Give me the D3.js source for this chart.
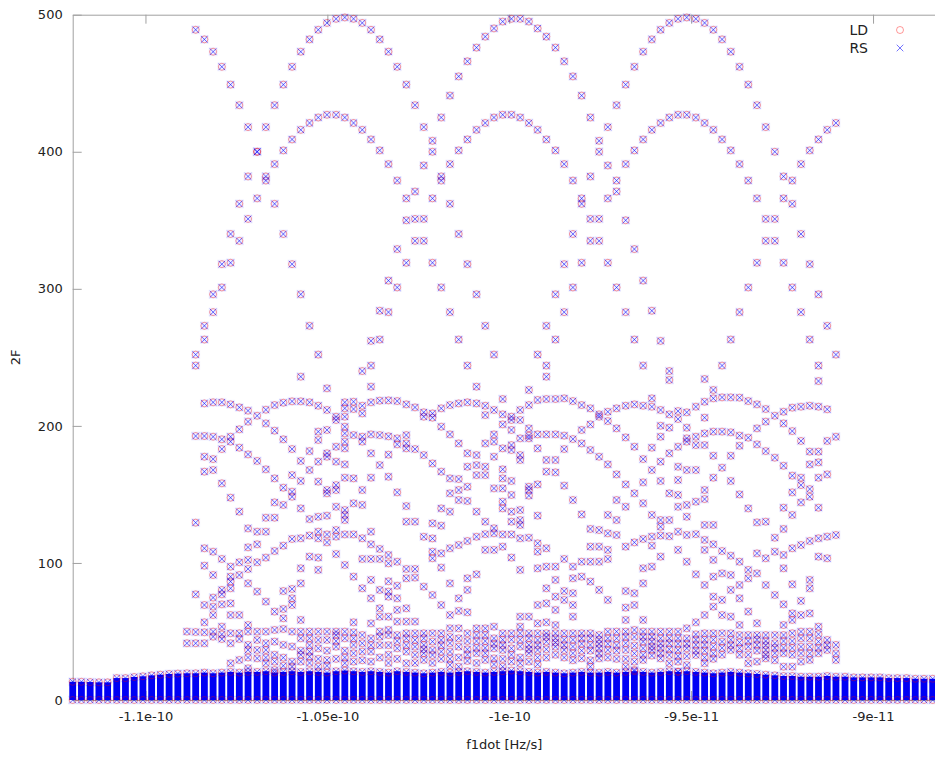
<!DOCTYPE html>
<html>
<head>
<meta charset="utf-8">
<script src="https://cdn.jsdelivr.net/npm/d3@7"></script>
<style>
  body { margin: 0; background: #fff; }
  text { font-family: "DejaVu Sans", sans-serif; fill: #222; }
</style>
</head>
<body>
<div id="chart"></div>
<script>
// f1dot grid, in units of 1e-13 Hz/s
const f1dot = [
  -1120.0, -1117.6, -1115.2, -1112.8, -1110.4, -1107.9, -1105.5, -1103.1, -1100.7, -1098.3,
  -1095.9, -1093.5, -1091.1, -1088.6, -1086.2, -1083.8, -1081.4, -1079.0, -1076.6, -1074.2,
  -1071.8, -1069.3, -1066.9, -1064.5, -1062.1, -1059.7, -1057.3, -1054.9, -1052.5, -1050.1,
  -1047.6, -1045.2, -1042.8, -1040.4, -1038.0, -1035.6, -1033.2, -1030.8, -1028.3, -1025.9,
  -1023.5, -1021.1, -1018.7, -1016.3, -1013.9, -1011.5, -1009.0, -1006.6, -1004.2, -1001.8,
  -999.4, -997.0, -994.6, -992.2, -989.8, -987.3, -984.9, -982.5, -980.1, -977.7,
  -975.3, -972.9, -970.5, -968.0, -965.6, -963.2, -960.8, -958.4, -956.0, -953.6,
  -951.2, -948.7, -946.3, -943.9, -941.5, -939.1, -936.7, -934.3, -931.9, -929.5,
  -927.0, -924.6, -922.2, -919.8, -917.4, -915.0, -912.6, -910.2, -907.7, -905.3,
  -902.9, -900.5, -898.1, -895.7, -893.3, -890.8, -888.4, -886.0, -883.6
];

// top of the dense low-2F block in every column
const denseTop = [
  13.3, 13.3, 13.1, 12.9, 12.9, 16.0, 16.0, 16.8, 17.3, 18.0,
  18.5, 19.0, 19.3, 19.5, 19.5, 20.0, 19.5, 20.0, 20.5, 20.0,
  20.5, 20.5, 21.0, 20.0, 20.5, 21.0, 20.5, 21.0, 20.5, 20.0,
  21.0, 21.5, 21.0, 20.5, 21.0, 20.5, 20.0, 21.0, 20.5, 20.0,
  19.5, 20.0, 20.5, 20.0, 20.5, 21.0, 20.5, 20.0, 20.5, 21.0,
  21.5, 21.0, 20.5, 20.0, 20.5, 20.0, 19.5, 20.0, 20.5, 20.0,
  20.0, 20.5, 20.0, 20.5, 21.0, 20.5, 20.0, 20.5, 21.0, 20.5,
  21.0, 20.5, 20.0, 19.5, 20.0, 20.5, 20.0, 19.5, 19.0, 18.5,
  18.0, 17.5, 17.5, 17.0, 17.0, 17.0, 17.5, 17.0, 17.0, 16.5,
  16.5, 16.5, 16.5, 16.0, 16.0, 16.0, 15.5, 15.5, 15.5
];

// sparse 2F values above the dense block, one list per f1dot column
const twoF = [
  [], [], [], [], [], [], [], [], [], [],
  [], [], [],
  [49.9, 41.4],
  [489, 252, 244, 192.6, 129.4, 77.1, 49.6, 41.4],
  [482, 273, 263, 216.4, 192.6, 177.5, 166.6, 110.7, 98, 69.3, 56.7, 49.4, 41.4],
  [473, 296, 283, 217.2, 192.1, 175.8, 167.8, 108.2, 91.2, 74.7, 68.1, 62, 49.9, 46.2],
  [462, 318, 301, 217.2, 190.2, 183.1, 158.1, 102.9, 80.3, 77.1, 69.8, 53.5, 47.9, 44.5],
  [449, 340, 319, 215.7, 192.1, 188.5, 147.6, 97.3, 90, 86.4, 81.5, 70.5, 62, 48.7, 41.4, 26.8],
  [434, 362, 335, 213.5, 197.5, 184.1, 137.4, 100.5, 91.2, 62, 48.7, 44.5, 29.2],
  [418, 382, 351, 211.1, 203.1, 179.2, 125.2, 111.4, 102.2, 95.6, 85.1, 54.7, 49.9, 40.2, 36.5, 31, 23.1],
  [400, 400, 366, 207.4, 174.4, 122.8, 113.6, 100.5, 79.1, 49.9, 43.8, 36.5, 30.4],
  [418, 382, 379, 211.8, 201.8, 168.3, 133, 122.8, 103.9, 71.8, 49.9, 41.4, 36.5, 31, 26.8],
  [434, 362, 391, 215.2, 196.5, 161.7, 144.2, 133, 108.7, 64.5, 51.1, 42.6, 33, 28, 21.9],
  [449, 340, 401, 216.9, 190.2, 154.9, 142.3, 112.6, 79.5, 66.4, 59.6, 51.8, 40.2, 30.9, 25],
  [462, 318, 409, 217.9, 183.1, 164.1, 152, 148.3, 117.5, 81, 74.2, 69.3, 49.9, 39, 28, 24.3],
  [473, 296, 416, 235.9, 217.9, 174.4, 159.8, 139.8, 118, 96.1, 85.1, 58.4, 49.9, 45, 36, 33, 28],
  [482, 273, 421, 217.2, 181.6, 167.8, 132, 120, 104.6, 49.9, 45, 40, 35.3, 31.6, 27],
  [489, 252, 425, 214.7, 195.8, 189.7, 173.9, 159.3, 133.7, 122.8, 118, 103.9, 94.9, 49.9, 43.8, 37.7, 30, 24.3],
  [494, 427, 227.4, 211.6, 197, 180, 177.5, 153.2, 150.8, 134.5, 120.8, 115, 49.9, 43.8, 36, 29.2, 25],
  [497, 427, 206.7, 204.3, 184.8, 173.9, 156.8, 153.2, 141, 124, 119.2, 106.5, 49.9, 47.4, 43, 38.9, 30],
  [498, 425, 217.2, 212.8, 206.7, 199.4, 194.5, 188.5, 183.6, 171.9, 162.2, 138.6, 135, 131.3, 120.8, 98.5, 49.9, 45, 36, 31, 26.8],
  [497, 421, 217.6, 212.3, 193.3, 161.7, 143.5, 120.8, 90, 56.7, 49.4, 45, 40.2, 34.1, 28],
  [494, 416, 240, 214.7, 209.1, 192.1, 188.5, 153.2, 142.3, 118, 102.9, 81.5, 47.4, 41.4, 35.3, 29],
  [489, 409, 262, 244, 228.6, 217.2, 193.8, 180, 162.2, 122.8, 113.6, 102.9, 87.6, 74.2, 55.9, 45, 40, 35.3, 28],
  [482, 401, 284, 263, 218.4, 193.3, 171.4, 110.2, 102.9, 80.3, 66.9, 60.8, 49.9, 46.2, 40, 31],
  [473, 391, 306, 283, 218.6, 192.4, 179, 162.9, 105.8, 99.7, 86.6, 79.1, 75.4, 60.8, 51.1, 47.4, 40, 33, 27],
  [462, 379, 329, 301, 218.1, 190.9, 186.5, 151.5, 100.9, 83.4, 74.2, 65.7, 57.2, 47.4, 43, 37.7, 30],
  [449, 366, 350, 319, 215.7, 193.3, 187.2, 183.6, 141.5, 130.1, 95.6, 88.8, 66.9, 57.2, 48.7, 45, 40, 35.3, 26.8],
  [434, 351, 371, 335, 213.5, 183.1, 130.1, 95.6, 89.3, 57.2, 48.7, 43.8, 38.9, 33, 27],
  [418, 335, 390, 351, 209.9, 206.7, 178.7, 119.1, 82.7, 48.7, 45, 40.2, 37, 34.1, 29.2],
  [400, 319, 408, 366, 209.1, 206, 172.6, 128.9, 117.9, 108.2, 103.4, 76.6, 48.7, 42.6, 36.5, 32.8, 27],
  [382, 301, 425, 379, 212.8, 199.4, 166.6, 139.8, 127.2, 107, 96.6, 69.3, 48.7, 43.8, 40, 35.3, 30],
  [362, 283, 441, 391, 215.2, 193.8, 161.7, 150.8, 137.4, 110.7, 85.1, 62, 52.3, 46, 41.4, 35.3, 30, 25.5],
  [340, 263, 455, 401, 216.4, 187.2, 161.2, 153.2, 145.9, 113.1, 74.2, 65, 52.3, 45, 38.9, 31, 24.3],
  [318, 244, 466, 409, 217.2, 180, 170.2, 155.6, 145.2, 116, 88.8, 80.3, 64, 48.7, 43, 37, 33, 28.5],
  [296, 476, 416, 228.6, 216.4, 178.7, 171.4, 164.1, 137.4, 119.1, 91.7, 52.3, 47.4, 43, 38, 34.1, 27],
  [273, 484, 421, 214.7, 207.9, 187.2, 170.2, 164.1, 130.1, 121, 109.5, 52.3, 47.4, 43, 38, 34.1, 29.2],
  [252, 490, 425, 211.6, 193.8, 188.5, 177.5, 154.4, 125.3, 121.6, 109.5, 53.5, 45, 41, 37.7, 30.4, 26],
  [495, 427, 219.6, 208.4, 201.1, 183.6, 168.3, 161.7, 154.4, 144.7, 139.8, 120.8, 111.9, 48.7, 44, 40, 36.5, 30, 24.3],
  [497, 427, 206.7, 204.3, 197, 186, 182.4, 159.8, 149.6, 137.4, 130.1, 120.8, 103.9, 48.7, 44, 37.7, 33, 28],
  [497, 425, 211.6, 204.3, 190.9, 178.7, 175.1, 138.6, 131.3, 127.7, 118, 94.9, 60.8, 53.5, 48.7, 44, 39, 31, 26.8],
  [495, 421, 226.2, 215.2, 198.2, 192.9, 190.9, 155.6, 153.2, 149.1, 118.4, 60.8, 48.7, 45, 40.2, 37, 34.1, 28],
  [490, 416, 252, 218.9, 193.8, 183.6, 157.3, 134.5, 114.3, 108.2, 96.1, 69.3, 55.9, 48.7, 43.8, 40, 36.5, 31, 26],
  [484, 409, 273, 244, 235.9, 219.6, 193.8, 175.1, 166.6, 110.7, 97.3, 81.5, 70.5, 56.7, 48.7, 46, 42.6, 37, 31],
  [476, 401, 296, 263, 219.6, 193.8, 175.1, 166.1, 97.3, 87.6, 75.4, 65.7, 54.7, 48.7, 45, 42, 38.9, 33],
  [466, 391, 318, 283, 220.1, 192.9, 183.1, 156.4, 102.9, 79.5, 73, 48.7, 44, 40, 36.5, 31],
  [455, 379, 340, 301, 218.1, 190.4, 145.9, 97.3, 88.8, 77.9, 69.3, 60.8, 48.7, 44, 39, 34.1, 29],
  [441, 366, 362, 319, 215.2, 197, 187.2, 135.4, 100.9, 90, 48.7, 45, 41, 36, 30.4],
  [425, 351, 382, 335, 212.8, 201.1, 182.4, 124.8, 111.9, 100.9, 86.4, 48.7, 45, 40.2, 36, 29, 24.3],
  [408, 335, 400, 351, 208.4, 206.7, 177.5, 124, 111.9, 100.9, 80.3, 47.4, 44, 41, 37.7, 34, 30.4],
  [390, 319, 418, 366, 210.3, 203.5, 171.9, 135, 121.6, 109.5, 102.9, 73, 49.9, 45, 41, 36.5, 31],
  [371, 301, 434, 379, 212.8, 198.2, 164.6, 145.9, 131.3, 120.4, 49.9, 45, 40, 36, 30],
  [350, 283, 449, 391, 214.7, 191.6, 157.3, 141, 111.9, 79.5, 67.4, 58.4, 49.9, 46, 41.4, 36.5, 30, 24.3],
  [329, 263, 462, 401, 215.7, 184.8, 150.8, 115, 77.9, 69.3, 51.1, 46, 39.7, 34, 28, 21.9],
  [306, 244, 473, 409, 214.7, 175.8, 158.8, 143.5, 117.5, 96.1, 85.1, 58.4, 49.9, 46, 42.6, 37.7, 33, 29.2],
  [284, 482, 416, 220.1, 214, 184.1, 167.8, 135, 119.2, 112.6, 97.3, 49.9, 46, 42.6, 39, 36.5, 32.4],
  [262, 489, 421, 211.6, 200.1, 192.1, 173.9, 159.8, 131.3, 126.4, 120, 104.6, 49.9, 45, 41, 38, 34.1, 30.4],
  [240, 494, 425, 233.5, 208.4, 198.7, 180, 150.8, 131.3, 119.5, 49.9, 45, 41.4, 37, 32.8, 26.8],
  [497, 427, 210.8, 205, 184.8, 170.2, 160.5, 149.6, 141, 122.8, 109.5, 49.9, 45, 41, 36.5, 32, 28, 20.7],
  [498, 427, 209.9, 198.7, 190.9, 188.5, 167.8, 142.3, 133.7, 120.4, 100.9, 52.3, 45, 41, 37.7, 32, 25.5],
  [497, 425, 214, 192.1, 186, 167.8, 144.7, 121, 91.7, 56.7, 47.9, 44, 40.2, 36, 32.8],
  [494, 421, 234.2, 217.6, 206, 194.5, 186, 153.2, 146.6, 127.7, 116.8, 109.5, 83.9, 62, 48.7, 44, 40.2, 36, 31, 26.8],
  [489, 416, 226.2, 220.1, 195.8, 178.2, 162.2, 127.7, 113.6, 102.2, 90, 75.4, 68.1, 48.7, 44, 38.9, 34, 30],
  [482, 409, 244, 220.8, 195.8, 169.5, 108.7, 92.4, 73, 62, 48.7, 42.6, 38, 33],
  [473, 401, 263, 220.8, 195.3, 178.2, 159.8, 105.3, 91.2, 80.3, 60.8, 48.7, 44, 40, 36.5],
  [462, 391, 283, 220.6, 192.9, 185.5, 150, 100.9, 83.9, 74.2, 54.7, 47.4, 42, 37.7, 33],
  [449, 379, 301, 218.1, 191.4, 139.8, 94.9, 88.8, 64.5, 47.4, 43, 38.9, 33, 26.8],
  [434, 366, 319, 215.7, 198.2, 186.5, 129.6, 107, 92.4, 56, 47.4, 44, 40.2, 36, 28],
  [418, 351, 335, 212.3, 203.1, 181.6, 130.1, 103.4, 83.9, 47.4, 43, 40, 36.5, 33, 30.4],
  [400, 335, 351, 207.4, 176.8, 118.4, 108.2, 76.6, 47.4, 41.4, 38, 34.1, 29],
  [382, 319, 366, 210.3, 201.8, 170.9, 140.3, 124.8, 105.8, 96.1, 69.8, 54.7, 47.4, 43, 38, 34.1, 24.3],
  [362, 301, 379, 213.3, 196.2, 163.7, 151.5, 135, 110.7, 84.4, 63.2, 58.4, 48.7, 43, 38, 33, 24.3],
  [340, 283, 391, 214, 189, 162.2, 156.8, 144.2, 113.1, 72.3, 62, 49.9, 45, 38.9, 34, 28],
  [318, 263, 401, 214.7, 181.2, 171.9, 153.9, 148.3, 116, 87.6, 81.5, 63.2, 49.9, 45, 38.9, 34, 29.2],
  [296, 244, 409, 232.7, 214, 181.2, 173.4, 162.2, 140.3, 118, 104.6, 53.5, 48, 42.6, 38, 34.1],
  [273, 416, 212.1, 189, 164.6, 119.2, 103.4, 43.8, 40, 36.5],
  [252, 421, 192.1, 120.4, 40.2, 34, 29.2],
  [], [], [], [], [], [], [], [], [], [], []
];

const seriesNames = ["LD", "RS"];
const xTicks = [-1.1e-10, -1.05e-10, -1e-10, -9.5e-11, -9e-11];
const xTickLabels = ["-1.1e-10", "-1.05e-10", "-1e-10", "-9.5e-11", "-9e-11"];
const yTicks = [0, 100, 200, 300, 400, 500];

const W = 935, H = 757;
const plotLeft = 72.7, plotTop = 14.7, plotBottom = 700;

const svg = d3.select("#chart").append("svg")
  .attr("width", W).attr("height", H);

const x = d3.scaleLinear().domain([-1.12e-10, -8.8e-11]).range([plotLeft, 945.8]);
const y = d3.scaleLinear().domain([0, 500]).range([plotBottom, plotTop]);

const grey = "#a0a0a0";

// axes (gnuplot style: ticks inside, mirrored on top)
const xAxis = svg.append("g")
  .attr("transform", "translate(0," + plotBottom + ")")
  .call(d3.axisBottom(x).tickValues(xTicks)
    .tickFormat((d, i) => xTickLabels[i]).tickSizeInner(-9).tickSizeOuter(0).tickPadding(12));
xAxis.select(".domain").attr("stroke", grey);
xAxis.selectAll(".tick line").attr("stroke", grey);
xAxis.selectAll("text").style("font-size", "13px").attr("fill", "#222");

const xTop = svg.append("g")
  .attr("transform", "translate(0," + plotTop + ")")
  .call(d3.axisTop(x).tickValues(xTicks).tickFormat("").tickSizeInner(-9).tickSizeOuter(0));
xTop.select(".domain").attr("stroke", grey);
xTop.selectAll(".tick line").attr("stroke", grey);

const yAxis = svg.append("g")
  .attr("transform", "translate(" + plotLeft + ",0)")
  .call(d3.axisLeft(y).tickValues(yTicks).tickSizeInner(-9).tickSizeOuter(0).tickPadding(10));
yAxis.select(".domain").attr("stroke", grey);
yAxis.selectAll(".tick line").attr("stroke", grey);
yAxis.selectAll("text").style("font-size", "13px").attr("fill", "#222");

svg.append("text")
  .attr("transform", "translate(20," + y(250) + ") rotate(-90)")
  .attr("text-anchor", "middle")
  .style("font-size", "13px")
  .text("2F");

svg.append("text")
  .attr("x", x(-1e-10) - 5).attr("y", 749)
  .attr("text-anchor", "middle")
  .style("font-size", "13px")
  .text("f1dot [Hz/s]");

// flatten the columns into points
const cols = f1dot.map((f, i) => ({ f: f * 1e-13, top: denseTop[i], vals: twoF[i] }));
const points = [];
cols.forEach(c => {
  points.push({ f: c.f, v: 0 });
  points.push({ f: c.f, v: c.top });
  c.vals.forEach(v => points.push({ f: c.f, v: v }));
});

// dense block of near-zero values
svg.append("g").selectAll("rect")
  .data(cols)
  .join("rect")
  .attr("x", d => x(d.f) - 3.4)
  .attr("width", 6.8)
  .attr("y", d => y(d.top))
  .attr("height", d => y(0) - y(d.top))
  .attr("fill", "#0000f5");

const plot = svg.append("g");

// LD: red circles
plot.append("g").selectAll("circle")
  .data(points)
  .join("circle")
  .attr("cx", d => x(d.f))
  .attr("cy", d => y(d.v))
  .attr("r", 3.5)
  .attr("fill", "none")
  .attr("stroke", "#ff0000")
  .attr("stroke-opacity", 0.4)
  .attr("stroke-width", 1);

// RS: blue crosses with a faint halo
const rs = plot.append("g").selectAll("g")
  .data(points)
  .join("g")
  .attr("transform", d => "translate(" + x(d.f) + "," + y(d.v) + ")");
rs.append("rect")
  .attr("x", -4.5).attr("y", -4.5).attr("width", 9).attr("height", 9)
  .attr("fill", "#0000ff").attr("fill-opacity", 0.06);
rs.append("path")
  .attr("d", "M-3.3,-3.3L3.3,3.3M-3.3,3.3L3.3,-3.3")
  .attr("stroke", "#0000ff")
  .attr("stroke-opacity", 0.55)
  .attr("stroke-width", 1);

// legend
const legend = svg.append("g");
seriesNames.forEach((name, i) => {
  const ly = 30 + i * 18;
  legend.append("text")
    .attr("x", 868).attr("y", ly + 5)
    .attr("text-anchor", "end")
    .style("font-size", "14px")
    .text(name);
  if (i === 0) {
    legend.append("circle").attr("cx", 900).attr("cy", ly).attr("r", 3.5)
      .attr("fill", "none").attr("stroke", "#ff0000").attr("stroke-opacity", 0.4);
  } else {
    legend.append("path")
      .attr("transform", "translate(900," + ly + ")")
      .attr("d", "M-3.3,-3.3L3.3,3.3M-3.3,3.3L3.3,-3.3")
      .attr("stroke", "#0000ff").attr("stroke-opacity", 0.55);
  }
});
</script>
</body>
</html>
